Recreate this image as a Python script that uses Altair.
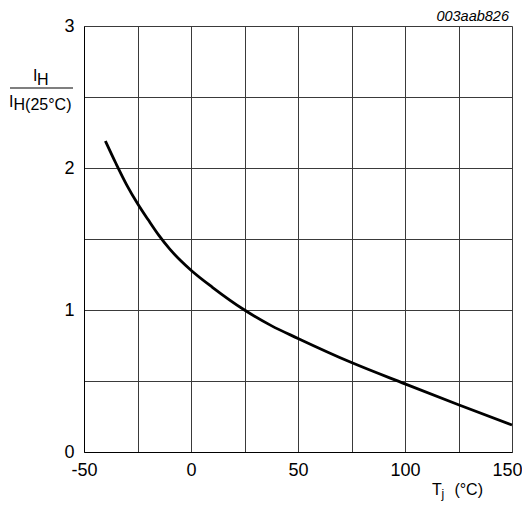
import altair as alt
import pandas as pd

# Data
temps = [-40, -35, -30, -25, -20, -15, -10, -5, 0, 10, 25, 37.5, 50, 75, 100, 125, 150]
ratio = [2.19, 2.03, 1.88, 1.75, 1.635, 1.525, 1.43, 1.35, 1.28, 1.16, 1.00, 0.89, 0.80, 0.63, 0.48, 0.333, 0.19]

x_grid = [-50, -25, 0, 25, 50, 75, 100, 125, 150]
y_grid = [0, 0.5, 1, 1.5, 2, 2.5, 3]

df = pd.DataFrame({"T": temps, "R": ratio})
one = pd.DataFrame({"k": [0]})

FONT = "Liberation Sans"
W, H = 428, 426

x_enc = alt.X("T:Q", scale=alt.Scale(domain=[-50, 150], nice=False, zero=False),
              axis=alt.Axis(values=x_grid, title=None, grid=True, ticks=False,
                            labelExpr="datum.value % 50 == 0 ? '' + datum.value : ''",
                            labelFontSize=18, labelPadding=9, labelFont=FONT,
                            labelColor="black", domainColor="black",
                            labelOffset={"condition": {"test": "datum.value == 150", "value": -5}, "value": 0},
                            gridColor="#3a3a3a", gridWidth=1, labelFlush=False))
y_enc = alt.Y("R:Q", scale=alt.Scale(domain=[0, 3], nice=False),
              axis=alt.Axis(values=y_grid, title=None, grid=True, ticks=False,
                            labelExpr="datum.value % 1 == 0 ? '' + datum.value : ''",
                            labelFontSize=18, labelPadding=10, labelFont=FONT,
                            labelColor="black", domainColor="black",
                            gridColor="#3a3a3a", gridWidth=1, labelFlush=False))

line = alt.Chart(df).mark_line(color="black", strokeWidth=2.8, interpolate="monotone").encode(
    x=x_enc, y=y_enc)

def txt(s, x, y, size=16, align="left", style="normal", baseline="alphabetic"):
    return alt.Chart(one).mark_text(text=s, fontSize=size, font=FONT, align=align,
                                    baseline=baseline, fontStyle=style, color="black").encode(
        x=alt.value(x), y=alt.value(y))

frac_line = alt.Chart(one).mark_rule(color="black", strokeWidth=1.2).encode(
    x=alt.value(-74), x2=alt.value(-11), y=alt.value(62))

layers = [
    line,
    frac_line,
    # numerator I_H
    txt("I", -51, 55, size=16),
    txt("H", -47, 58.5, size=16),
    # denominator I_H(25°C)
    txt("I", -75, 80.5, size=16),
    txt("H(25°C)", -70.5, 83.8, size=16),
    # x title T_j (°C)
    txt("T", 348, 469, size=16),
    txt("j", 357.5, 472, size=12),
    txt("(°C)", 399, 469, size=16, align="right"),
    # code label
    txt("003aab826", 425, -5.5, size=14.5, align="right", style="italic"),
]

chart = alt.layer(*layers).properties(
    width=W, height=H,
    autosize=alt.AutoSizeParams(type="none"),
    padding={"left": 76, "top": 18, "right": 10, "bottom": 49},
).configure_view(stroke="black", strokeWidth=1).configure(background="white")

chart.save("out.html", embed_options={"renderer": "svg", "actions": False})
